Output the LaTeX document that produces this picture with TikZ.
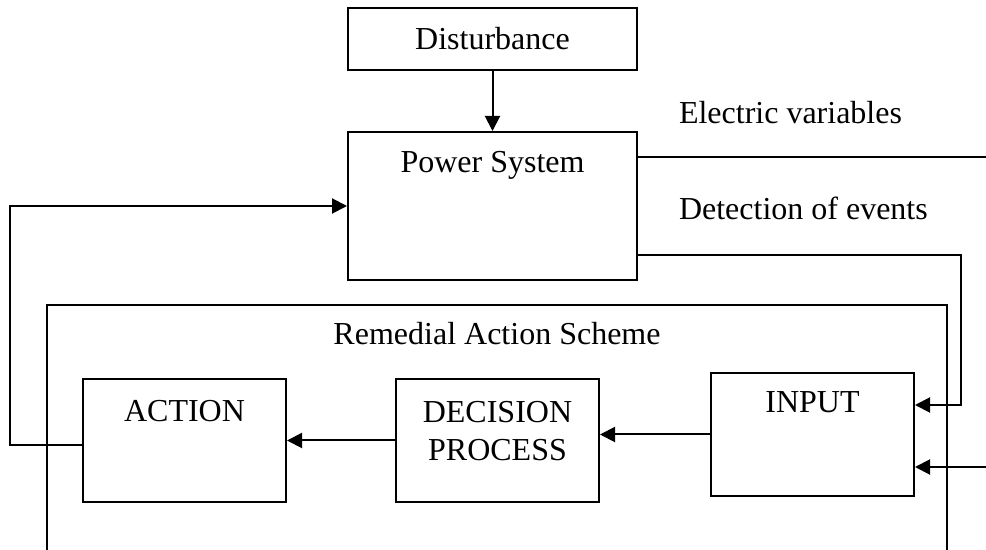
\documentclass[tikz,border=0pt]{standalone}
\usepackage{fontspec}
\setmainfont{Liberation Serif}
\usetikzlibrary{arrows.meta}
\begin{document}
\begin{tikzpicture}[x=0.5pt, y=-0.5pt, line width=1pt,
    font=\fontsize{16}{19}\selectfont,
    blk/.style={draw, inner sep=0pt, minimum width=101.5pt, minimum height=61.5pt},
    txt/.style={anchor=base, inner sep=0pt},
    arr/.style={-{Triangle[length=7.5pt,width=7.5pt]}}]
  \useasboundingbox (0,0) rectangle (986,550);

  % disturbance and power system
  \node[blk, minimum width=144.5pt, minimum height=31pt] (dist) at (492.5,39) {Disturbance};
  \node[blk, minimum width=144.5pt, minimum height=74pt] (psys) at (492.5,206) {};
  \node[txt] (psysT) at (492.5,173) {Power System};
  \draw[arr] (dist) -- (psys);

  % remedial action scheme (open at the bottom)
  \coordinate (rl) at (47,550);
  \coordinate (rr) at (947,550);
  \draw (rl) -- (rl |- 0,305) -- (rr |- 0,305) -- (rr);
  \node[txt] (rasT) at (497,345) {Remedial Action Scheme};

  % blocks inside the scheme
  \node[blk] (act) at (184.5,440.5) {};
  \node[blk] (dec) at (497.5,440.5) {};
  \node[blk] (inp) at (812.5,434.5) {};
  \node[txt] (actT) at (184.5,422) {ACTION};
  \node[anchor=north, inner sep=0pt, align=center] (decT) at (497.5,400) {DECISION\\PROCESS};
  \node[txt] (inpT) at (812.5,413) {INPUT};

  \draw[arr] (inp.west) -- (dec.east |- inp.west);
  \draw[arr] (dec) -- (act);

  % outputs of the power system
  \coordinate (ev) at (986,157);
  \coordinate (dc) at (961,255);
  \coordinate (di) at (961,405);
  \coordinate (ex) at (986,467);
  \node[txt, anchor=base west] (evT) at (678,124) {Electric variables};
  \node[txt, anchor=base west] (dcT) at (678,220) {Detection of events};
  \draw (psys.east |- ev) -- (ev);
  \draw[arr] (psys.east |- dc) -- (dc) -- (di) -- (inp.east |- di);
  \draw[arr] (ex) -- (inp.east |- ex);

  % feedback from action to power system
  \coordinate (fa) at (10,445);
  \coordinate (fb) at (10,206);
  \draw[arr] (act.west |- fa) -- (fa) -- (fb) -- (psys.west |- fb);
\end{tikzpicture}
\end{document}
